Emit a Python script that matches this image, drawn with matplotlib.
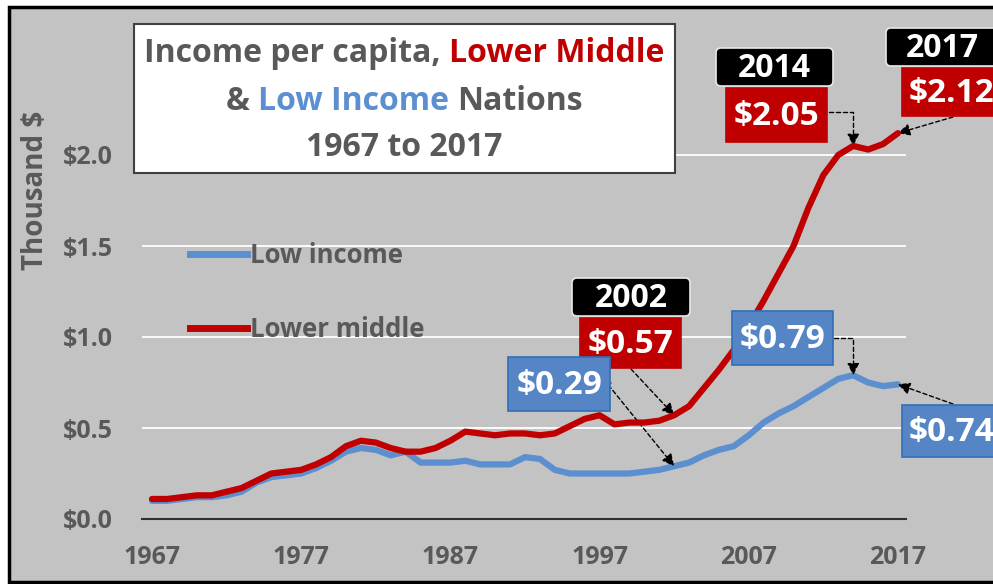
import numpy as np
import matplotlib.pyplot as plt
from matplotlib.patches import Rectangle, FancyBboxPatch
from matplotlib.lines import Line2D
from matplotlib.transforms import IdentityTransform

plt.rcParams['font.family'] = ['Open Sans', 'DejaVu Sans']
plt.rcParams['font.weight'] = 'bold'

years = np.arange(1967, 2018)
lower_middle = [0.11, 0.11, 0.12, 0.13, 0.13, 0.15, 0.17, 0.21, 0.25, 0.26,
                0.27, 0.30, 0.34, 0.40, 0.43, 0.42, 0.39, 0.37, 0.37, 0.39,
                0.43, 0.48, 0.47, 0.46, 0.47, 0.47, 0.46, 0.47, 0.51, 0.55,
                0.57, 0.52, 0.53, 0.53, 0.54, 0.57, 0.62, 0.72, 0.82, 0.93,
                1.06, 1.20, 1.35, 1.50, 1.71, 1.89, 2.00, 2.05, 2.03, 2.06,
                2.12]
low_income = [0.10, 0.10, 0.11, 0.12, 0.12, 0.13, 0.15, 0.20, 0.23, 0.24,
              0.25, 0.28, 0.32, 0.37, 0.39, 0.38, 0.35, 0.37, 0.31, 0.31,
              0.31, 0.32, 0.30, 0.30, 0.30, 0.34, 0.33, 0.27, 0.25, 0.25,
              0.25, 0.25, 0.25, 0.26, 0.27, 0.29, 0.31, 0.35, 0.38, 0.40,
              0.46, 0.53, 0.58, 0.62, 0.67, 0.72, 0.77, 0.79, 0.75, 0.73,
              0.74]
x_ticks = [1967, 1977, 1987, 1997, 2007, 2017]
y_ticks = [0.0, 0.5, 1.0, 1.5, 2.0]
y_labels = [r'\$0.0', r'\$0.5', r'\$1.0', r'\$1.5', r'\$2.0']

RED = '#C00000'
BLUE = '#5B8FD0'
GRAY = '#595959'
W, H = 993, 584

fig = plt.figure(figsize=(W / 100, H / 100), dpi=100)
fig.patch.set_facecolor('white')
# gray panel with black frame (runs off the right edge)
fig.patches.append(Rectangle((9 / W, 2 / H), 1.05, 575 / H, transform=fig.transFigure,
                             facecolor='#C3C3C3', edgecolor='black', lw=2.5, zorder=-5))

ax = fig.add_axes([142 / W, 65 / H, 764 / W, 455 / H])
ax.set_facecolor('none')
ax.plot(years, low_income, color=BLUE, lw=4.5, solid_capstyle='round', zorder=3)
ax.plot(years, lower_middle, color=RED, lw=4.5, solid_capstyle='round', zorder=4)

ax.set_xlim(1966.33, 2017.54)
ax.set_ylim(0, 2.5)
ax.set_xticks(x_ticks)
ax.set_xticklabels([str(x) for x in x_ticks])
ax.set_yticks(y_ticks)
ax.set_yticklabels(y_labels)
ax.tick_params(axis='x', length=0, pad=19, labelsize=18, labelcolor=GRAY)
ax.tick_params(axis='y', length=0, pad=21, labelsize=18, labelcolor=GRAY)
ax.yaxis.grid(True, color='white', lw=1.3)
ax.set_axisbelow(True)
for s in ['top', 'right', 'left']:
    ax.spines[s].set_visible(False)
ax.spines['bottom'].set_color('#303030')
ax.spines['bottom'].set_linewidth(1.5)

fig.text(36 / W, 1 - 190 / H, r'Thousand \$', rotation=90, ha='center', va='center',
         fontsize=20, color=GRAY)

# legend
handles = [Line2D([], [], color=BLUE, lw=5), Line2D([], [], color=RED, lw=5)]
ax.legend(handles, ['Low income', 'Lower middle'], loc='upper left',
          bbox_to_anchor=(190 / W, 1 - 242 / H), bbox_transform=fig.transFigure,
          frameon=False, fontsize=18.5, labelcolor=GRAY, handlelength=2.2,
          handletextpad=0.15, labelspacing=1.82, borderpad=0, borderaxespad=0)

# title box
fig.patches.append(Rectangle((134 / W, 1 - 173 / H), 541 / W, 149 / H, transform=fig.transFigure,
                             facecolor='white', edgecolor='#404040', lw=1.5, zorder=2))
renderer = fig.canvas.get_renderer()


def text_w(s, size):
    t = fig.text(0, 0, s, fontsize=size)
    w = t.get_window_extent(renderer).width
    t.remove()
    return w


def colored_line(xc, y, pieces, size):
    sp = text_w('a a', size) - text_w('aa', size)
    widths = [text_w(s, size) for s, c in pieces]
    x = xc - (sum(widths) + sp * (len(pieces) - 1)) / 2
    for (s, c), w in zip(pieces, widths):
        fig.text(x / W, 1 - y / H, s, color=c, fontsize=size, ha='left', va='center', zorder=3)
        x += w + sp


colored_line(404, 53, [('Income per capita,', GRAY), ('Lower Middle', RED)], 23)
colored_line(404, 101, [('&', GRAY), ('Low Income', BLUE), ('Nations', GRAY)], 23)
colored_line(404, 148, [('1967 to 2017', GRAY)], 23)


# callout boxes, given in image pixels (x0, y0, x1, y1)
def box(rect, text, fc, ec, size, tx=None, rounded=False):
    x0, y0, x1, y1 = rect
    style = 'round,pad=0,rounding_size=5' if rounded else 'square,pad=0'
    fig.patches.append(FancyBboxPatch((x0, H - y1), x1 - x0, y1 - y0,
                                      boxstyle=style, transform=IdentityTransform(),
                                      fc=fc, ec=ec, lw=1.2, zorder=6))
    yc = (y0 + y1) / 2 + 1.5
    if tx is None:
        fig.text((x0 + x1) / 2 / W, 1 - yc / H, text, ha='center', va='center',
                 fontsize=size, color='white', zorder=7)
    else:
        fig.text(tx / W, 1 - yc / H, text, ha='left', va='center',
                 fontsize=size, color='white', zorder=7)


def arrow(yr, series, start, conn='arc3'):
    ax.annotate('', xy=(yr, series[list(years).index(yr)]), xytext=(start[0], H - start[1]),
                textcoords='figure pixels', annotation_clip=False,
                arrowprops=dict(arrowstyle='-|>', linestyle=(0, (3, 2)), color='black', lw=1,
                                mutation_scale=18, connectionstyle=conn,
                                shrinkA=0, shrinkB=0))


def val(series, yr):
    return r'\$%.2f' % series[list(years).index(yr)]


BLUE_BOX = '#5585C5'
BLUE_EDGE = '#2F6FB8'

# lower middle callouts
box((716, 48, 833, 86), '2014', 'black', '#E8E8E8', 23, rounded=True)
box((726, 88, 827, 142), val(lower_middle, 2014), RED, RED, 24)
arrow(2014, lower_middle, (829, 112), 'angle,angleA=0,angleB=90,rad=0')

box((886, 28, 1010, 66), '2017', 'black', '#E8E8E8', 23, tx=906, rounded=True)
box((902, 68, 1010, 116), val(lower_middle, 2017), RED, RED, 24, tx=909)
arrow(2017, lower_middle, (953, 117))

box((572, 278, 690, 316), '2002', 'black', '#E8E8E8', 23, rounded=True)
box((580, 318, 681, 368), val(lower_middle, 2002), RED, RED, 24)
arrow(2002, lower_middle, (631, 369))

# low income callouts
box((508, 357, 610, 411), val(low_income, 2002), BLUE_BOX, BLUE_EDGE, 24)
arrow(2002, low_income, (611, 383), 'angle,angleA=0,angleB=-51,rad=0')

box((732, 311, 833, 365), val(low_income, 2014), BLUE_BOX, BLUE_EDGE, 24)
arrow(2014, low_income, (834, 338), 'angle,angleA=0,angleB=90,rad=0')

box((902, 405, 1010, 457), val(low_income, 2017), BLUE_BOX, BLUE_EDGE, 24, tx=909)
arrow(2017, low_income, (953, 404))

fig.savefig('out.png', dpi=100)
